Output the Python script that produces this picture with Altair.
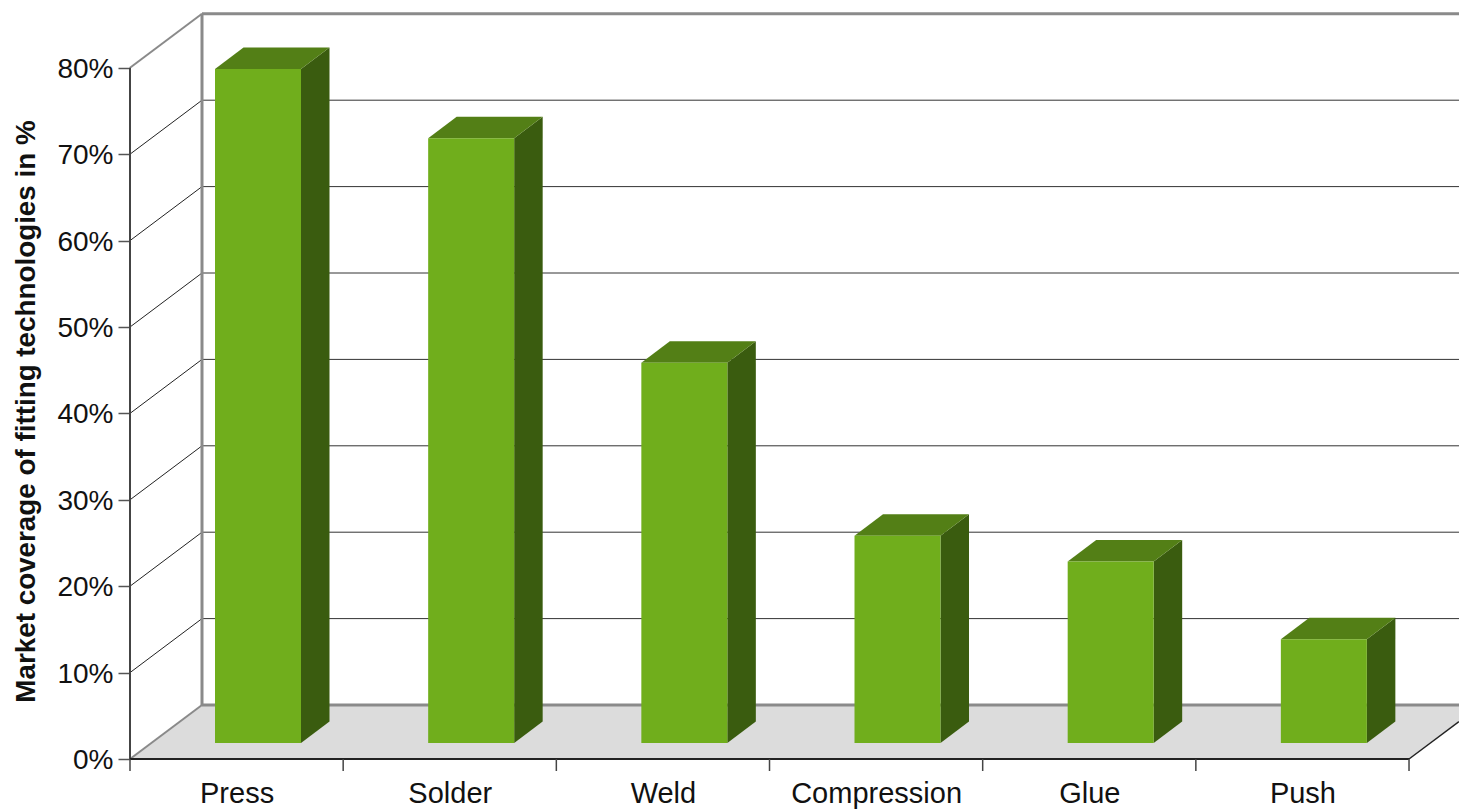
import json
import altair as alt
import pandas as pd

categories = ["Press", "Solder", "Weld", "Compression", "Glue", "Push"]
values = [78, 70, 44, 24, 21, 12]
y_ticks = [0, 10, 20, 30, 40, 50, 60, 70, 80]
y_title = "Market coverage of fitting technologies in %"

# projection of the pseudo-3D box, in data units
PX_PER_CAT = 213.17
PX_PER_PCT = 8.64
PLOT_W = 1329
PLOT_H = 745
X_END = PLOT_W / PX_PER_CAT
Y_END = PLOT_H / PX_PER_PCT
DEPTH_X = 72 / PX_PER_CAT
DEPTH_Y = 54 / PX_PER_PCT
N = len(categories)
Y_MAX = max(y_ticks)

BAR_LEFT = 85 / PX_PER_CAT
BAR_W = 86 / PX_PER_CAT
BAR_BASE = 16 / PX_PER_PCT
BAR_DX = 28.5 / PX_PER_CAT
BAR_DY = 21.5 / PX_PER_PCT

FONT = "Liberation Sans"
x_scale = alt.Scale(domain=[0, X_END], nice=False, zero=False)
y_scale = alt.Scale(domain=[0, Y_END], nice=False, zero=False)
label_expr = "%s[floor(datum.value)]" % json.dumps(categories)
AX = alt.X("x:Q", scale=x_scale, axis=alt.Axis(
    values=[i + 0.5 for i in range(N)], labelExpr=label_expr, ticks=False, domain=False,
    grid=False, title=None, labelFontSize=29, labelFont=FONT, labelColor="#111111",
    labelPadding=20, labelOverlap=False, labelFlush=False))
AY = alt.Y("y:Q", scale=y_scale, axis=alt.Axis(
    values=y_ticks, labelExpr="datum.value + '%'", tickSize=12, tickColor="#555555",
    tickWidth=1.5, domain=False, grid=False, labelFontSize=28, labelFont=FONT,
    labelColor="#111111", labelPadding=5, labelOffset=1.5, labelOverlap=False, labelFlush=False,
    title=y_title, titleFont=FONT, titleFontSize=27.8, titleFontWeight="bold", titleColor="#111111",
    titleAngle=270, titleX=-104, titleY=397, titleAlign="center", titleBaseline="middle"))


def rules(rows, color, width):
    return alt.Chart(pd.DataFrame(rows, columns=["x", "x2", "y", "y2"])).mark_rule(
        color=color, strokeWidth=width
    ).encode(x=AX, x2="x2:Q", y=AY, y2="y2:Q")


# floor
floor_df = pd.DataFrame({"y": [0, DEPTH_Y], "x": [0, DEPTH_X], "x2": [N, N + DEPTH_X]})
floor = alt.Chart(floor_df).mark_area(orient="horizontal", color="#DCDCDC", clip=True).encode(
    y=AY, x=AX, x2="x2:Q"
)

# grid on wall and side
inner = [t for t in y_ticks if 0 < t < Y_MAX]
grid_back = rules([[DEPTH_X, X_END, t + DEPTH_Y, t + DEPTH_Y] for t in inner], "#333333", 1)
grid_side = rules([[0, DEPTH_X, t, t + DEPTH_Y] for t in inner], "#222222", 1)
frame_gray = rules(
    [[DEPTH_X, DEPTH_X, DEPTH_Y, Y_MAX + DEPTH_Y],
     [DEPTH_X, X_END, Y_MAX + DEPTH_Y, Y_MAX + DEPTH_Y],
     [DEPTH_X, X_END, DEPTH_Y, DEPTH_Y]],
    "#8A8A8A", 3)
frame_thin = rules(
    [[0, DEPTH_X, Y_MAX, Y_MAX + DEPTH_Y], [0, DEPTH_X, 0, DEPTH_Y]],
    "#8A8A8A", 2)
left_edge = rules([[0, 0, 0, Y_MAX]], "#444444", 2)
front_edge = rules([[0, N, 0, 0]], "#222222", 2)
right_edge = rules([[N, X_END, 0, (X_END - N) / DEPTH_X * DEPTH_Y]], "#222222", 1.5)

# category ticks below the front edge
tick_df = pd.DataFrame({"x": list(range(N + 1))})
cat_ticks = alt.Chart(tick_df).mark_rule(color="#444444", strokeWidth=1.5).encode(
    x=AX, y=alt.value(PLOT_H), y2=alt.value(PLOT_H + 12)
)

# bars
front_rows, side_rows, top_rows = [], [], []
for i, (c, v) in enumerate(zip(categories, values)):
    l = i + BAR_LEFT
    r = l + BAR_W
    b = BAR_BASE
    t = BAR_BASE + v
    front_rows.append({"c": c, "x": l, "x2": r, "y": b, "y2": t})
    side_rows += [
        {"c": c, "x": r, "y": b, "y2": t},
        {"c": c, "x": r + BAR_DX, "y": b + BAR_DY, "y2": t + BAR_DY},
    ]
    top_rows += [
        {"c": c, "y": t, "x": l, "x2": r},
        {"c": c, "y": t + BAR_DY, "x": l + BAR_DX, "x2": r + BAR_DX},
    ]

bar_side = alt.Chart(pd.DataFrame(side_rows)).mark_area(color="#3A5C0F").encode(
    x=AX, y=AY, y2="y2:Q", detail="c:N"
)
bar_top = alt.Chart(pd.DataFrame(top_rows)).mark_area(orient="horizontal", color="#537F16").encode(
    y=AY, x=AX, x2="x2:Q", detail="c:N"
)
bar_front = alt.Chart(pd.DataFrame(front_rows)).mark_rect(color="#70AE1C").encode(
    x=AX, x2="x2:Q", y=AY, y2="y2:Q"
)

chart = alt.layer(
    floor, grid_back, grid_side, frame_gray, frame_thin, left_edge, front_edge, right_edge,
    cat_ticks, bar_side, bar_top, bar_front
).properties(
    width=PLOT_W, height=PLOT_H,
    autosize=alt.AutoSizeParams(type="none"),
    padding={"left": 122, "top": 6, "right": 0, "bottom": 50},
    background="white",
).configure_view(stroke=None)

chart.save("out.html", embed_options={"renderer": "svg", "actions": False})
